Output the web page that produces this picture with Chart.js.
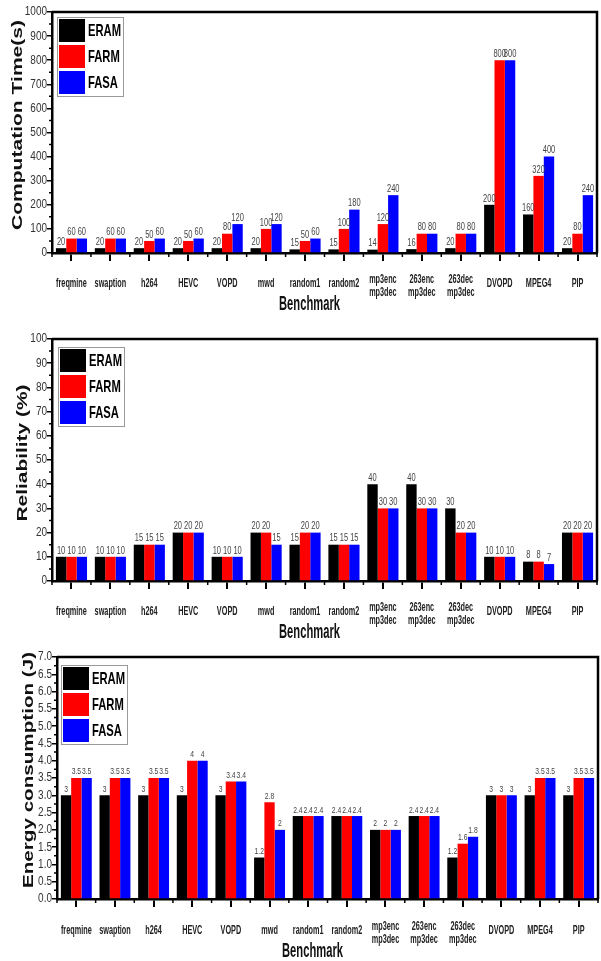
<!DOCTYPE html>
<html>
<head>
<meta charset="utf-8">
<script src="https://cdn.jsdelivr.net/npm/chart.js@4.4.0/dist/chart.umd.min.js"></script>
<style>
  html, body { margin: 0; padding: 0; background: #fff; }
  #wrap { position: relative; width: 601px; height: 961px; }
  .panel { position: absolute; left: 0; width: 601px; }
  canvas { display: block; }
</style>
</head>
<body>
<div id="wrap">
  <div class="panel" style="top:0"><canvas id="timeChart" width="601" height="320"></canvas></div>
  <div class="panel" style="top:320px"><canvas id="relChart" width="601" height="320"></canvas></div>
  <div class="panel" style="top:640px"><canvas id="energyChart" width="601" height="321"></canvas></div>
</div>
<script>
  'use strict';

  const benchmarks = ['freqmine', 'swaption', 'h264', 'HEVC', 'VOPD', 'mwd', 'random1', 'random2',
    ['mp3enc', 'mp3dec'], ['263enc', 'mp3dec'], ['263dec', 'mp3dec'], 'DVOPD', 'MPEG4', 'PIP'];
  const methodNames = ['ERAM', 'FARM', 'FASA'];
  const methodColors = ['#000000', '#ff0000', '#0000ff'];

  const timeEram = [20, 20, 20, 20, 20, 20, 15, 15, 14, 16, 20, 200, 160, 20];
  const timeFarm = [60, 60, 50, 50, 80, 100, 50, 100, 120, 80, 80, 800, 320, 80];
  const timeFasa = [60, 60, 60, 60, 120, 120, 60, 180, 240, 80, 80, 800, 400, 240];

  const relEram = [10, 10, 15, 20, 10, 20, 15, 15, 40, 40, 30, 10, 8, 20];
  const relFarm = [10, 10, 15, 20, 10, 20, 20, 15, 30, 30, 20, 10, 8, 20];
  const relFasa = [10, 10, 15, 20, 10, 15, 20, 15, 30, 30, 20, 10, 7, 20];

  const energyEram = [3, 3, 3, 3, 3, 1.2, 2.4, 2.4, 2, 2.4, 1.2, 3, 3, 3];
  const energyFarm = [3.5, 3.5, 3.5, 4, 3.4, 2.8, 2.4, 2.4, 2, 2.4, 1.6, 3, 3.5, 3.5];
  const energyFasa = [3.5, 3.5, 3.5, 4, 3.4, 2, 2.4, 2.4, 2, 2.4, 1.8, 3, 3.5, 3.5];

  // y axis ranges: [max, step]
  const timeAxis = [1000, 100];
  const relAxis = [100, 10];
  const energyAxis = [7, 0.5];

  const FONT = "'Liberation Sans', Arial, sans-serif";

  // the original picture is squeezed sideways, so text is scaled along x
  function squeezed(ctx, text, x, y, font, sx, align) {
    ctx.save();
    ctx.font = font;
    ctx.textAlign = align;
    ctx.translate(x, y);
    ctx.scale(sx, 1);
    ctx.fillText(text, 0, 0);
    ctx.restore();
  }

  const decorPlugin = {
    id: 'decor',
    afterDatasetsDraw(chart, args, opts) {
      const ctx = chart.ctx;
      const a = chart.chartArea;
      const xs = chart.scales.x;
      const ys = chart.scales.y;
      ctx.save();
      ctx.textBaseline = 'middle';

      // value labels on top of bars
      ctx.fillStyle = '#444';
      chart.data.datasets.forEach(function (ds, i) {
        chart.getDatasetMeta(i).data.forEach(function (bar, j) {
          squeezed(ctx, String(ds.data[j]), bar.x, bar.y - 6, opts.valueFont + 'px ' + FONT, 0.75, 'center');
        });
      });

      // top and right frame
      ctx.strokeStyle = '#000';
      ctx.lineWidth = 2.5;
      ctx.beginPath();
      ctx.moveTo(a.left, a.top);
      ctx.lineTo(a.right, a.top);
      ctx.lineTo(a.right, a.bottom);
      ctx.stroke();

      // minor ticks
      ctx.lineWidth = 1.5;
      ctx.beginPath();
      const step = ys.options.ticks.stepSize;
      for (let v = step / 2; v < ys.max; v += step) {
        const py = ys.getPixelForValue(v);
        ctx.moveTo(a.left - 3, py);
        ctx.lineTo(a.left, py);
      }
      const n = chart.data.labels.length;
      const w = xs.getPixelForValue(1) - xs.getPixelForValue(0);
      for (let i = 0; i <= n; i++) {
        const px = xs.getPixelForValue(0) - w / 2 + i * w;
        ctx.moveTo(px, a.bottom);
        ctx.lineTo(px, a.bottom + 4);
      }
      ctx.stroke();

      // y tick labels
      ctx.fillStyle = '#333';
      ys.ticks.forEach(function (t) {
        squeezed(ctx, opts.tickFmt(t.value), a.left - 5, ys.getPixelForValue(t.value), '12.5px ' + FONT, 0.8, 'right');
      });

      // x category labels
      ctx.fillStyle = '#222';
      chart.data.labels.forEach(function (lab, i) {
        const px = xs.getPixelForValue(i);
        const lines = Array.isArray(lab) ? lab : [lab];
        const y0 = lines.length > 1 ? opts.labelY - 3.5 : opts.labelY;
        lines.forEach(function (line, k) {
          squeezed(ctx, line, px, a.bottom + y0 + k * 12.5, 'bold 13px ' + FONT, 0.56, 'center');
        });
      });

      // x title
      ctx.fillStyle = '#111';
      squeezed(ctx, 'Benchmark', (a.left + a.right) / 2 - 15, a.bottom + opts.xTitleY,
        'bold 20px ' + FONT, 0.56, 'center');

      // legend
      const lx = a.left + opts.legendDx;
      const ly = a.top + opts.legendDy;
      ctx.fillStyle = '#fff';
      ctx.fillRect(lx, ly, 66, 79);
      ctx.strokeStyle = '#999';
      ctx.lineWidth = 1;
      ctx.strokeRect(lx + 0.5, ly + 0.5, 66, 79);
      chart.data.datasets.forEach(function (ds, i) {
        const ry = ly + 2 + i * 26;
        ctx.fillStyle = ds.backgroundColor;
        ctx.fillRect(lx + 2, ry, 26, 23);
        ctx.fillStyle = '#000';
        squeezed(ctx, ds.label, lx + 31, ry + 12, 'bold 17px ' + FONT, 0.66, 'left');
      });

      // y title, stretched along the text
      ctx.font = 'bold 15px ' + FONT;
      const plain = ctx.measureText(opts.yTitle).width;
      ctx.translate(opts.yTitleX, opts.yTitleY);
      ctx.rotate(-Math.PI / 2);
      ctx.scale(opts.yTitleLen / plain, 1);
      ctx.textAlign = 'center';
      ctx.fillStyle = '#111';
      ctx.fillText(opts.yTitle, 0, 0);
      ctx.restore();
    }
  };

  function makeChart(id, sets, axis, d) {
    return new Chart(document.getElementById(id), {
      type: 'bar',
      data: {
        labels: benchmarks,
        datasets: sets.map(function (vals, i) {
          return {
            label: methodNames[i],
            data: vals,
            backgroundColor: methodColors[i],
            borderWidth: 0,
            categoryPercentage: 0.8,
            barPercentage: 1.0
          };
        })
      },
      options: {
        responsive: false,
        animation: false,
        layout: { padding: { top: d.top, right: d.right, left: 0, bottom: 0 } },
        plugins: {
          legend: { display: false },
          tooltip: { enabled: false },
          decor: {
            yTitle: d.yTitle, yTitleX: d.yTitleX, yTitleY: d.yTitleY, yTitleLen: d.yTitleLen,
            valueFont: d.valueFont, legendDx: d.legendDx, legendDy: d.legendDy,
            labelY: d.labelY, xTitleY: d.xTitleY, tickFmt: d.tickFmt
          }
        },
        scales: {
          x: {
            ticks: { display: false, autoSkip: false },
            grid: { offset: false, drawOnChartArea: false, tickLength: 8, color: '#000', lineWidth: 2 },
            border: { color: '#000', width: 2.5 },
            afterFit: function (s) { s.height = d.xHeight; }
          },
          y: {
            min: 0,
            max: axis[0],
            ticks: { display: false, stepSize: axis[1] },
            grid: { drawOnChartArea: false, tickLength: 5, color: '#000', lineWidth: 1.5 },
            border: { color: '#000', width: 2.5 },
            afterFit: function (s) { s.width = d.yWidth; }
          }
        }
      },
      plugins: [decorPlugin]
    });
  }

  makeChart('timeChart', [timeEram, timeFarm, timeFasa], timeAxis, {
    top: 12, right: 4, xHeight: 67, yWidth: 52, labelY: 30, xTitleY: 51,
    yTitle: 'Computation Time(s)', yTitleX: 18, yTitleY: 125, yTitleLen: 210,
    valueFont: 10, legendDx: 5, legendDy: 5,
    tickFmt: function (v) { return String(v); }
  });

  makeChart('relChart', [relEram, relFarm, relFasa], relAxis, {
    top: 19, right: 4, xHeight: 59, yWidth: 52, labelY: 30, xTitleY: 51,
    yTitle: 'Reliability (%)', yTitleX: 23, yTitleY: 133, yTitleLen: 137,
    valueFont: 10, legendDx: 6, legendDy: 8,
    tickFmt: function (v) { return String(v); }
  });

  makeChart('energyChart', [energyEram, energyFarm, energyFasa], energyAxis, {
    top: 17, right: 3, xHeight: 62, yWidth: 57, labelY: 31, xTitleY: 52,
    yTitle: 'Energy consumption (J)', yTitleX: 29, yTitleY: 130, yTitleLen: 236,
    valueFont: 9, legendDx: 4, legendDy: 8,
    tickFmt: function (v) { return Number(v).toFixed(1); }
  });
</script>
</body>
</html>
